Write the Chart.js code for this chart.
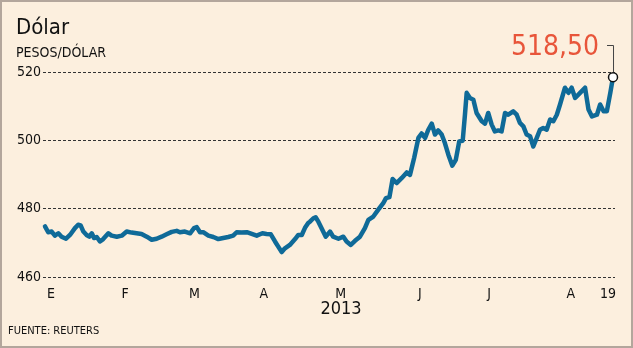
<!DOCTYPE html>
<html>
<head>
<meta charset="utf-8">
<script src="https://cdn.jsdelivr.net/npm/chart.js@4.4.0/dist/chart.umd.min.js"></script>
<style>
  body { margin: 0; background: #fff; }
  canvas { display: block; }
</style>
</head>
<body>
<canvas id="dolarChart" width="633" height="348"></canvas>
<script>
// dia del año 2013 y cierre del dolar (pesos por dolar)
var dias = [1.6, 2.9, 4.3, 5.6, 7.0, 8.3, 10.1, 11.7, 13.7, 15.0, 16.0, 17.1, 18.4, 19.5, 20.5, 21.4, 22.5, 23.8, 25.1, 27.2,
  28.5, 30.6, 32.6, 34.6, 36.6, 38.6, 40.6, 42.7, 44.7, 46.7, 48.7, 50.7, 52.8, 54.8, 56.1, 58.1, 60.2, 61.8, 62.9, 64.2,
  65.5, 67.6, 69.6, 71.6, 73.6, 75.6, 77.6, 79.0, 81.0, 83.1, 85.1, 87.1, 89.4, 91.1, 92.8, 94.5, 95.8, 97.2, 98.5, 100.5,
  102.6, 103.9, 105.3, 106.6, 107.9, 108.6, 110.0, 110.9, 112.0, 113.3, 115.0, 116.7, 118.0, 120.1, 122.1, 123.4, 125.1, 126.8, 128.8, 130.8,
  132.2, 134.2, 136.2, 138.2, 139.3, 140.7, 142.0, 143.6, 145.7, 147.7, 149.0, 150.7, 152.4, 153.7, 155.1, 156.4, 157.8, 159.1, 160.4, 161.8,
  163.1, 164.5, 166.1, 167.5, 168.9, 170.3, 171.2, 171.9, 173.2, 174.6, 175.9, 178.0, 179.3, 180.6, 182.0, 183.3, 184.7, 186.0, 187.4, 188.7,
  190.7, 192.1, 193.4, 194.8, 196.1, 197.5, 198.8, 200.2, 201.5, 202.8, 204.2, 205.6, 206.9, 208.3, 209.6, 211.6, 213.0, 214.3, 215.7, 217.7,
  219.7, 221.1, 222.5, 224.5, 225.8, 227.2, 228.5, 229.9, 231];
var valores = [474.8, 473.1, 473.3, 472.1, 472.8, 471.8, 471.2, 472.3, 474.3, 475.3, 475.1, 473.3, 472.3, 471.8, 472.8, 471.4, 471.7, 470.4, 471.1, 472.8,
  472.1, 471.8, 472.1, 473.3, 473.0, 472.8, 472.6, 471.8, 470.9, 471.2, 471.8, 472.5, 473.2, 473.5, 473.1, 473.3, 472.8, 474.3, 474.6, 473.1,
  473.1, 472.1, 471.7, 471.1, 471.4, 471.7, 472.1, 473.1, 473.0, 473.1, 472.6, 472.1, 472.8, 472.6, 472.5, 470.4, 468.9, 467.3, 468.4, 469.4,
  471.1, 472.3, 472.3, 474.4, 475.8, 476.2, 477.2, 477.5, 476.2, 474.3, 471.8, 473.3, 471.8, 471.2, 471.8, 470.4, 469.4, 470.6, 471.8, 474.3,
  476.7, 477.7, 479.7, 481.6, 483.1, 483.4, 488.7, 487.5, 489.0, 490.6, 489.9, 494.9, 500.7, 502.0, 500.7, 503.1, 504.9, 501.7, 502.9, 501.7,
  499.2, 495.8, 492.6, 494.3, 499.7, 499.9, 507.5, 513.9, 512.4, 511.9, 508.0, 505.6, 504.9, 508.0, 504.6, 502.6, 502.9, 502.6, 508.0, 507.5,
  508.5, 507.5, 505.1, 504.1, 501.7, 501.2, 498.2, 500.7, 503.1, 503.6, 503.1, 506.1, 505.6, 507.5, 510.5, 515.4, 513.9, 515.4, 512.4, 513.9,
  515.4, 509.0, 507.0, 507.5, 510.5, 508.5, 508.5, 513.9, 518.50];

var diasMes = [4, 34, 62, 90, 121, 153, 181, 214, 229];
var etiquetasMes = ['E', 'F', 'M', 'A', 'M', 'J', 'J', 'A', '19'];
var ticksY = [460, 480, 500, 520];

var fuente = "'DejaVu Sans Condensed', 'DejaVu Sans', sans-serif";
var ultimo = valores.length - 1;

var puntos = dias.map(function(d, i) { return { x: d, y: valores[i] }; });
var radios = valores.map(function(v, i) { return i == ultimo ? 4.5 : 0; });

var textos = {
    id: 'textos',
    beforeDraw: function(chart) {
        var ctx = chart.ctx;
        ctx.save();
        ctx.fillStyle = '#fcefde';
        ctx.fillRect(0, 0, chart.width, chart.height);
        ctx.restore();
    },
    afterDraw: function(chart) {
        var ctx = chart.ctx;
        var xs = chart.scales.x, ys = chart.scales.y;
        ctx.save();

        // marco
        ctx.strokeStyle = '#b3a69c';
        ctx.lineWidth = 2;
        ctx.strokeRect(1, 1, chart.width - 2, chart.height - 2);

        ctx.fillStyle = '#111';
        ctx.textAlign = 'left';
        ctx.textBaseline = 'alphabetic';
        ctx.font = '22px ' + fuente;
        ctx.fillText('Dólar', 16, 34);
        ctx.font = '14px ' + fuente;
        ctx.fillText('PESOS/DÓLAR', 16, 57);

        ctx.font = '11px ' + fuente;
        ctx.textBaseline = 'middle';
        ctx.fillText('FUENTE: REUTERS', 8, 331);

        ctx.font = '18px ' + fuente;
        ctx.textAlign = 'center';
        ctx.fillText('2013', 341, 309);

        // ultimo valor
        var px = xs.getPixelForValue(dias[ultimo]);
        var py = ys.getPixelForValue(valores[ultimo]);
        ctx.strokeStyle = '#444';
        ctx.lineWidth = 1;
        ctx.beginPath();
        ctx.moveTo(px + 0.5, py - 5);
        ctx.lineTo(px + 0.5, 45.5);
        ctx.lineTo(px - 6, 45.5);
        ctx.stroke();

        ctx.fillStyle = '#e8553a';
        ctx.font = '28px ' + fuente;
        ctx.textAlign = 'right';
        ctx.textBaseline = 'alphabetic';
        ctx.fillText(valores[ultimo].toFixed(2).replace('.', ','), px - 14, 55);
        ctx.restore();
    }
};

var ctx = document.getElementById('dolarChart').getContext('2d');

var dolarChart = new Chart(ctx, {
    type: 'line',
    data: {
        datasets: [{
            data: puntos,
            borderColor: '#0f6a98',
            borderWidth: 4.5,
            borderJoinStyle: 'round',
            borderCapStyle: 'round',
            tension: 0,
            fill: false,
            clip: false,
            pointRadius: radios,
            pointHoverRadius: radios,
            pointBackgroundColor: '#fff',
            pointBorderColor: '#111',
            pointBorderWidth: 1.5
        }]
    },
    options: {
        responsive: false,
        animation: false,
        layout: { padding: { left: 0, right: 18, top: 72, bottom: 0 } },
        plugins: {
            legend: { display: false },
            tooltip: { enabled: false }
        },
        scales: {
            x: {
                type: 'linear',
                min: 0.8,
                max: 231.8,
                afterBuildTicks: function(scale) {
                    scale.ticks = diasMes.map(function(d) { return { value: d }; });
                },
                afterFit: function(scale) { scale.height = 71; },
                grid: { display: false },
                border: { display: false },
                ticks: {
                    autoSkip: false,
                    maxRotation: 0,
                    padding: 1,
                    color: '#111',
                    font: { family: fuente, size: 14 },
                    callback: function(value, index) { return etiquetasMes[index]; }
                }
            },
            y: {
                min: 460,
                max: 520,
                afterBuildTicks: function(scale) {
                    scale.ticks = ticksY.map(function(v) { return { value: v }; });
                },
                afterFit: function(scale) { scale.width = 43; },
                grid: { color: '#333', lineWidth: 1, drawTicks: false },
                border: { display: false, dash: [3, 2] },
                ticks: {
                    padding: 2,
                    color: '#111',
                    font: { family: fuente, size: 14 }
                }
            }
        }
    },
    plugins: [textos]
});
</script>
</body>
</html>
